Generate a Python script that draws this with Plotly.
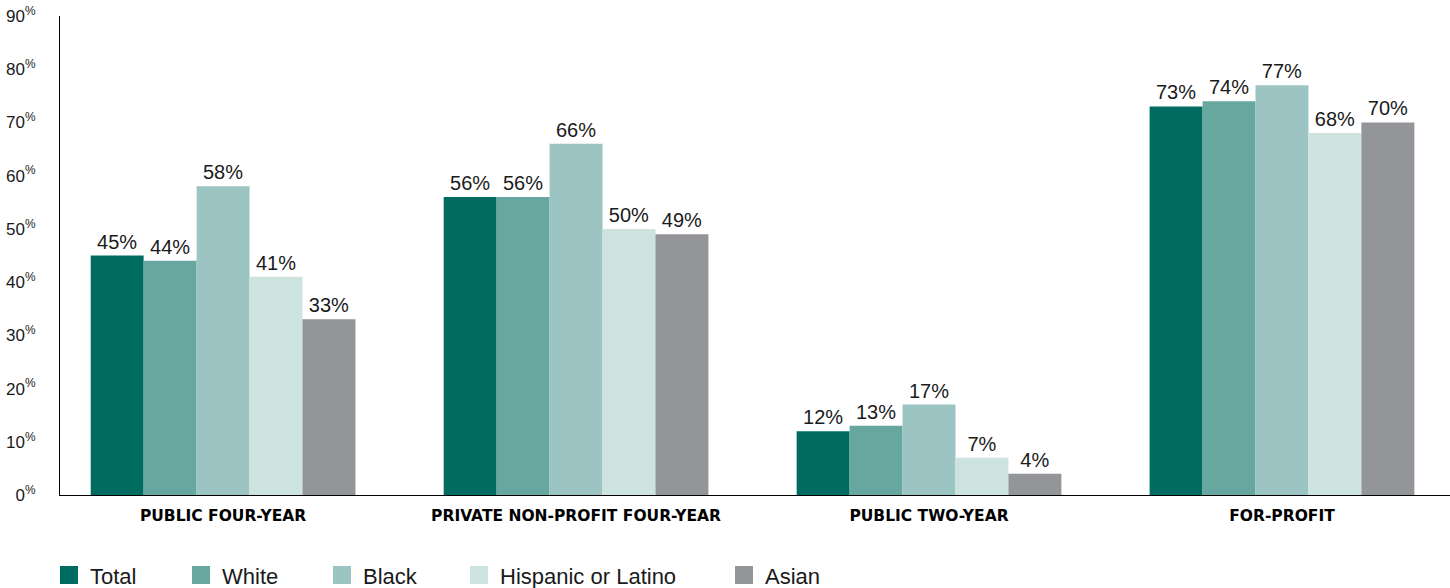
import plotly.graph_objects as go

categories = ["PUBLIC FOUR-YEAR", "PRIVATE NON-PROFIT FOUR-YEAR", "PUBLIC TWO-YEAR", "FOR-PROFIT"]
series_names = ["Total", "White", "Black", "Hispanic or Latino", "Asian"]
total = [45, 56, 12, 73]
white = [44, 56, 13, 74]
black = [58, 66, 17, 77]
hispanic = [41, 50, 7, 68]
asian = [33, 49, 4, 70]
series_values = [total, white, black, hispanic, asian]
colors = ["#006c61", "#66a7a0", "#9cc4c2", "#cde3e0", "#939598"]
y_ticks = [0, 10, 20, 30, 40, 50, 60, 70, 80, 90]

W, H = 1450, 588
L, R, T, B = 60, 0, 16, 93
FONT = "Liberation Sans, Arial, Helvetica, sans-serif"
BOLD_FONT = "DejaVu Sans, Liberation Sans, Arial, sans-serif"

fig = go.Figure()
for name, vals, col in zip(series_names, series_values, colors):
    fig.add_trace(go.Bar(
        x=categories, y=vals, name=name, marker=dict(color=col, line=dict(width=0)),
        text=[f"{v}%" for v in vals], textposition="outside",
        textfont=dict(family=FONT, size=20, color="#1a1a1a"),
        cliponaxis=False, showlegend=False,
    ))

fig.update_layout(
    width=W, height=H, margin=dict(l=L, r=R, t=T, b=B),
    paper_bgcolor="white", plot_bgcolor="white",
    barmode="group", bargap=0.25, bargroupgap=0,
    uniformtext=dict(minsize=20, mode="show"),
    xaxis=dict(
        type="category", range=[-0.462, 3.476], showgrid=False,
        showline=True, linecolor="#000", linewidth=1,
        ticks="outside", ticklen=6, tickcolor="rgba(0,0,0,0)",
        tickfont=dict(family=BOLD_FONT, size=15.5, color="#000", weight="bold"),
    ),
    yaxis=dict(
        range=[0, 90], showgrid=False, zeroline=False,
        showline=True, linecolor="#000", linewidth=1,
        tickvals=y_ticks, ticktext=[f"{v}<sup>%</sup>" for v in y_ticks],
        ticks="outside", ticklen=20, tickcolor="rgba(0,0,0,0)",
        tickfont=dict(family=FONT, size=17, color="#1a1a1a"),
    ),
)

# legend drawn manually
plot_w = W - L - R
plot_h = H - T - B
def px_x(px):
    return (px - L) / plot_w
def px_y(py):
    return (H - B - py) / plot_h

legend_left = [60, 192, 333, 470, 735]
for name, col, lx in zip(series_names, colors, legend_left):
    fig.add_shape(type="rect", xref="paper", yref="paper",
                  x0=px_x(lx), x1=px_x(lx + 18), y0=px_y(584), y1=px_y(566),
                  fillcolor=col, line=dict(width=0))
    fig.add_annotation(xref="paper", yref="paper", x=px_x(lx + 28), y=px_y(576),
                       xanchor="left", yanchor="middle", showarrow=False,
                       text=name, font=dict(family=FONT, size=22, color="#1a1a1a"))

fig.write_html("out.html")
